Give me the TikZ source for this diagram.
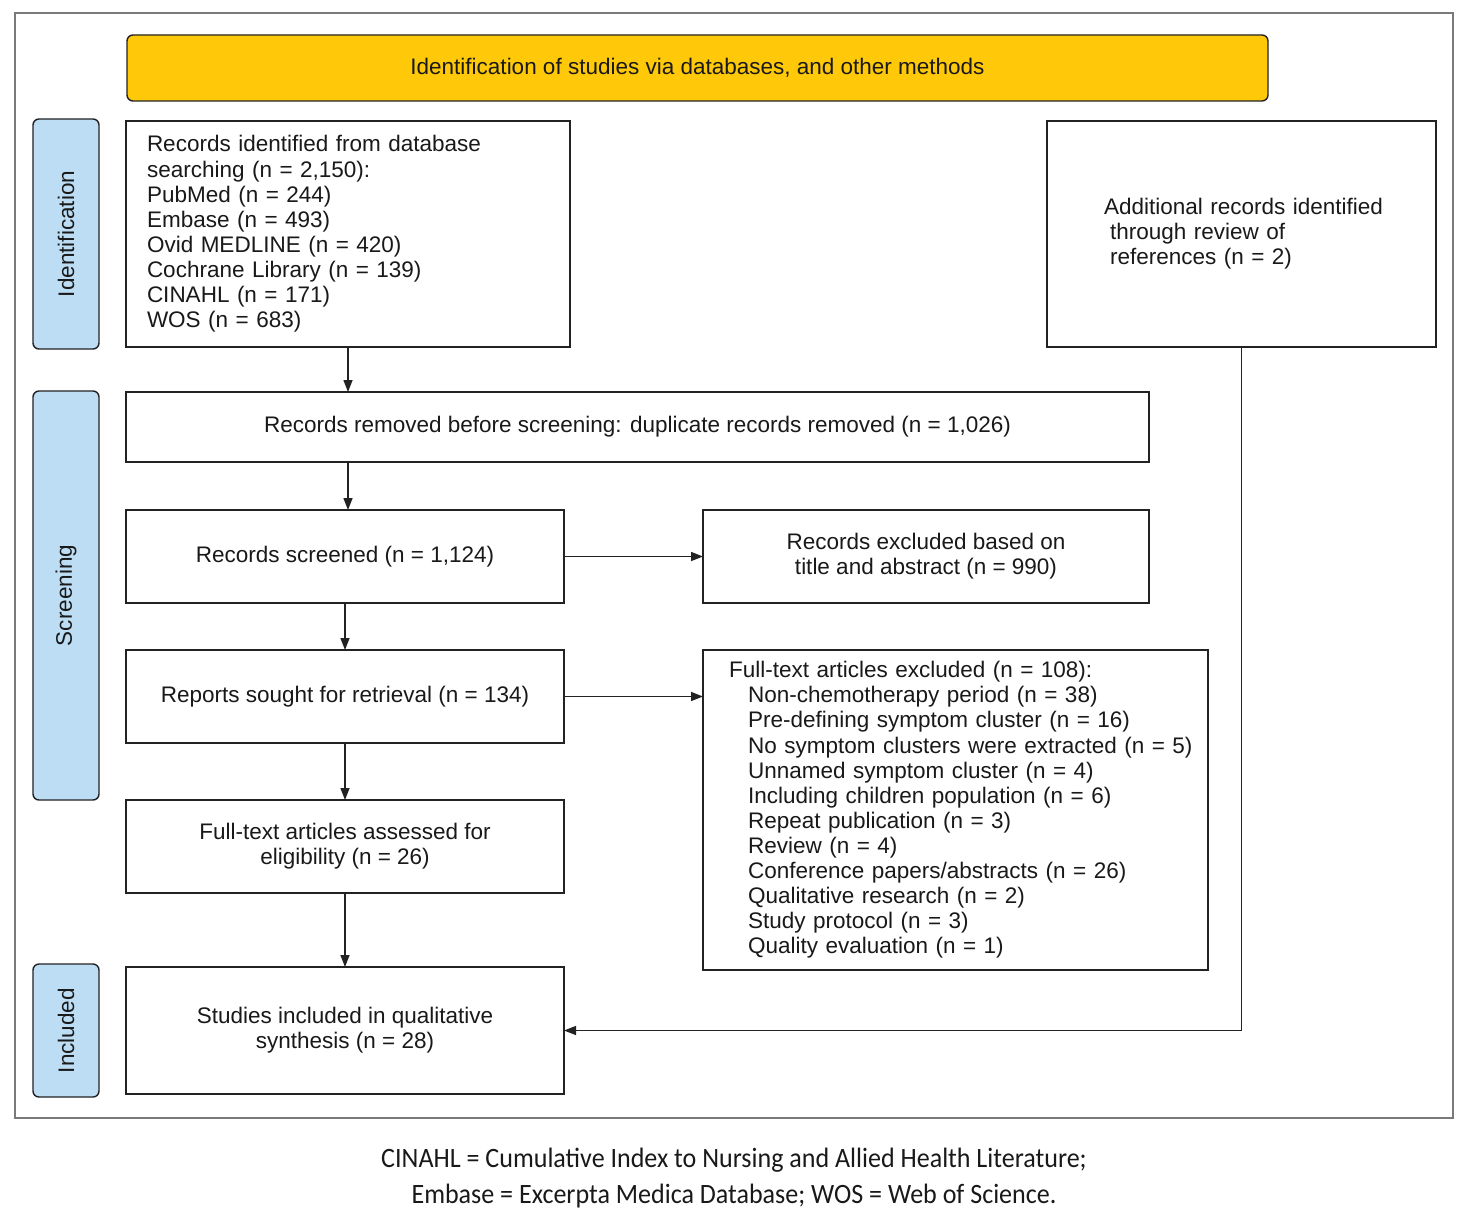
\documentclass[tikz,border=0pt]{standalone}
\usepackage{fontspec}
\setmainfont{Liberation Sans}
\newfontfamily\capfont{Carlito}
\usetikzlibrary{arrows.meta,positioning,calc}
\definecolor{hdrYellow}{HTML}{FFC90A}
\definecolor{sideBlue}{HTML}{BDDDF4}
\definecolor{lineDark}{HTML}{222222}
\definecolor{frameGray}{HTML}{7A7A7A}
\tikzset{
  box/.style={draw=lineDark, line width=1.4pt, fill=white, inner sep=0pt, outer sep=0pt,
    font=\fontsize{22.5}{25.1}\selectfont, text=black!90},
  sidelab/.style={draw=lineDark, line width=1.4pt, fill=sideBlue, rounded corners=6pt,
    inner sep=0pt, outer sep=0pt, minimum width=66pt},
  sidetxt/.style={rotate=90, font=\fontsize{22.5}{25}\selectfont, text=black!90},
  arr/.style={draw=lineDark, line width=1.4pt, -{Triangle[length=12pt,width=9pt]}},
  conn/.style={draw=lineDark, line width=1.4pt}
}
\newcommand{\ind}[1]{\mbox{\hspace*{19pt}#1}}
\begin{document}
\begin{tikzpicture}[x=1pt,y=-1pt]
\useasboundingbox (0,0) rectangle (1466,1220);
% outer frame
\draw[frameGray, line width=1.6pt] (15,13) rectangle (1453,1118);
% header
\node[draw=lineDark, line width=1.4pt, fill=hdrYellow, rounded corners=6pt, inner sep=0pt,
  minimum width=1141pt, minimum height=66pt, font=\fontsize{22.5}{25}\selectfont, text=black!90]
  (hdr) at (697.5,68) {Identification of studies via databases, and other methods};
% side labels
\node[sidelab, minimum height=230pt] (sid) at (66,234) {};
\node[sidetxt] (sidt) at (sid.center) {Identification};
\node[sidelab, minimum height=409pt] (sscr) at (66,595.5) {};
\node[sidetxt] (sscrt) at (sscr.center) {Screening};
\node[sidelab, minimum height=133pt] (sinc) at (66,1030.5) {};
\node[sidetxt] (sinct) at (sinc.center) {Included};
% boxes
\node[box, minimum width=444pt, minimum height=226pt, text width=402pt, align=left] (A) at (348,234)
  {\mbox{Records identified from database}\\\mbox{searching (n = 2,150):}\\PubMed (n = 244)\\Embase (n = 493)\\Ovid MEDLINE (n = 420)\\Cochrane Library (n = 139)\\CINAHL (n = 171)\\WOS (n = 683)};
\node[box, minimum width=389pt, minimum height=226pt, text width=275pt, align=left] (B) at (1241.5,234)
  {\mbox{Additional records identified}\\\mbox{\hspace*{6pt}through review of}\\\mbox{\hspace*{6pt}references (n = 2)}};
\node[box, minimum width=1023pt, minimum height=70pt, align=center] (C) at (637.5,427)
  {Records removed before screening: duplicate records removed (n = 1,026)};
\node[box, minimum width=438pt, minimum height=93pt, align=center] (D) at (345,556.5)
  {Records screened (n = 1,124)};
\node[box, minimum width=446pt, minimum height=93pt, align=center] (E) at (926,556.5)
  {Records excluded based on\\title and abstract (n = 990)};
\node[box, minimum width=438pt, minimum height=93pt, align=center] (F) at (345,696.5)
  {Reports sought for retrieval (n = 134)};
\node[box, minimum width=505pt, minimum height=320pt, text width=453pt, align=left] (G) at (955.5,810)
  {\mbox{Full-text articles excluded (n = 108):}\\
   \ind{Non-chemotherapy period (n = 38)}\\
   \ind{Pre-defining symptom cluster (n = 16)}\\
   \ind{No symptom clusters were extracted (n = 5)}\\
   \ind{Unnamed symptom cluster (n = 4)}\\
   \ind{Including children population (n = 6)}\\
   \ind{Repeat publication (n = 3)}\\
   \ind{Review (n = 4)}\\
   \ind{Conference papers/abstracts (n = 26)}\\
   \ind{Qualitative research (n = 2)}\\
   \ind{Study protocol (n = 3)}\\
   \ind{Quality evaluation (n = 1)}};
\node[box, minimum width=438pt, minimum height=93pt, align=center] (H) at (345,846.5)
  {Full-text articles assessed for\\eligibility (n = 26)};
\node[box, minimum width=438pt, minimum height=127pt, align=center] (I) at (345,1030.5)
  {Studies included in qualitative\\synthesis (n = 28)};
% connectors
\draw[arr] (A.south) -- (C.north -| A.south);
\draw[arr] (C.south -| A.south) -- (D.north -| A.south);
\draw[arr] (D.east) -- (E.west |- D.east);
\draw[arr] (D.south) -- (F.north);
\draw[arr] (F.east) -- (G.west |- F.east);
\draw[arr] (F.south) -- (H.north);
\draw[arr] (H.south) -- (I.north);
\coordinate (bend) at (B.south |- I.east);
\draw[conn] (B.south) -- (bend);
\draw[arr] (bend) -- (I.east);
% caption
\node[font=\capfont\fontsize{28}{36}\selectfont, align=center, text=black!90] (cap) at (734,1178)
  {\scalebox{0.93}[1]{CINAHL = Cumulative Index to Nursing and Allied Health Literature;}\\\scalebox{0.93}[1]{Embase = Excerpta Medica Database; WOS = Web of Science.}};
\end{tikzpicture}
\end{document}
